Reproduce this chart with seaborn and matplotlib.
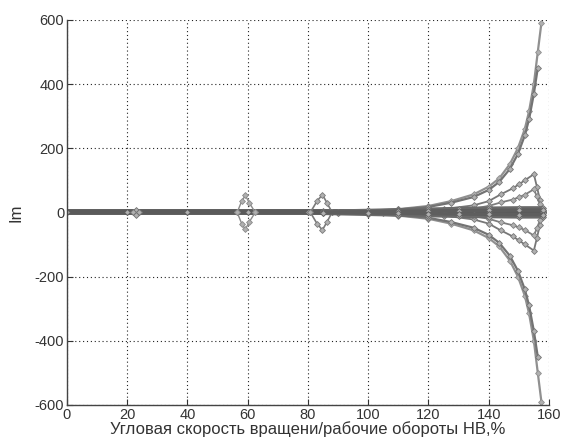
import matplotlib
matplotlib.use("Agg")
import matplotlib.pyplot as plt
import seaborn as sns
import pandas as pd

# ---- data (positive imaginary parts; conjugates are mirrored) ----
zero_x = [0, 20, 40, 60, 80, 100, 120, 140, 158]
zero_y = [0, 0, 0, 0, 0, 0, 0, 0, 0]

spike_x = [22, 23, 24]
spike_y = [0, 8, 0]

rh1_x = [56.5, 58, 59.2, 60.5, 62.5]
rh1_y = [0, 35, 53, 30, 0]

rh2_x = [80.8, 83, 84.8, 86.3, 88]
rh2_y = [0, 35, 55, 30, 0]

big1_x = [90, 100, 110, 120, 127.5, 135, 140, 143.5, 147, 149.7, 152, 153.4, 155, 156.3, 157.5]
big1_y = [2, 5, 10, 20, 35, 56, 80, 106, 150, 200, 260, 315, 400, 500, 590]

big2_x = [90, 100, 110, 120, 127.5, 135, 140, 143.5, 147, 149.7, 152, 153.4, 155, 156.3]
big2_y = [2, 4, 9, 17, 30, 48, 70, 95, 135, 182, 240, 290, 370, 450]

medA_x = [105, 115, 125, 135, 140, 144, 148, 150, 152, 155, 156, 157, 158]
medA_y = [2, 5, 10, 22, 35, 56, 75, 87, 100, 119, 80, 40, 3]

medB_x = [115, 125, 135, 140, 144, 148, 150, 152, 155, 156, 157, 158]
medB_y = [2, 5, 12, 20, 31, 40, 47, 55, 72, 50, 25, 3]

lowC_x = [85, 100, 110, 120, 130, 140, 150, 158]
lowC_y = [3, 6, 8, 10, 12, 13, 14, 14]

lowD_x = [85, 100, 110, 120, 130, 140, 150, 158]
lowD_y = [1, 2, 3, 4, 5, 6, 7, 7]

x_ticks = [0, 20, 40, 60, 80, 100, 120, 140, 160]
y_ticks = [-600, -400, -200, 0, 200, 400, 600]

curves = [
    (zero_x, zero_y, "#5a5a5a", 4.0),
    (spike_x, spike_y, "#707070", 1.2),
    (rh1_x, rh1_y, "#8a8a8a", 1.0),
    (rh2_x, rh2_y, "#7a7a7a", 1.2),
    (big1_x, big1_y, "#909090", 1.6),
    (big2_x, big2_y, "#737373", 1.6),
    (medA_x, medA_y, "#777777", 1.3),
    (medB_x, medB_y, "#7e7e7e", 1.3),
    (lowC_x, lowC_y, "#6a6a6a", 2.5),
    (lowD_x, lowD_y, "#5e5e5e", 2.5),
]

sns.set_theme(style="white")
plt.rcParams["font.family"] = ["Liberation Sans", "DejaVu Sans"]
plt.rcParams["axes.unicode_minus"] = False

fig = plt.figure(figsize=(5.63, 4.42), dpi=100)
ax = fig.add_axes([0.119, 0.084, 0.856, 0.871])

for cx, cy, col, lw in curves:
    for sign in (1, -1):
        df = pd.DataFrame({"x": cx, "y": [sign * v for v in cy]})
        sns.lineplot(data=df, x="x", y="y", ax=ax, sort=False, estimator=None,
                     color=col, linewidth=lw, marker="D", markersize=3,
                     markerfacecolor="#b0b0b0", markeredgecolor=col,
                     markeredgewidth=0.6)

ax.set_xlim(0, 160)
ax.set_ylim(-600, 600)
ax.set_xticks(x_ticks)
ax.set_yticks(y_ticks)
ax.set_xticklabels([str(t) for t in x_ticks])
ax.set_yticklabels([str(t) for t in y_ticks])
ax.grid(True, linestyle=(0, (1, 2.5)), color="#222222", linewidth=0.8)
ax.tick_params(direction="in", length=4, width=0.8, labelsize=10.5,
               colors="#333333", bottom=True, left=True, pad=2)
for s in ["top", "right"]:
    ax.spines[s].set_visible(False)
for s in ["left", "bottom"]:
    ax.spines[s].set_color("#444444")
    ax.spines[s].set_linewidth(1.0)
ax.set_xlabel("Угловая скорость вращени/рабочие обороты НВ,%", fontsize=12,
              color="#333333", labelpad=0)
ax.set_ylabel("Im", fontsize=12, color="#333333", labelpad=8)

fig.savefig("out.png", dpi=100, facecolor="white")
